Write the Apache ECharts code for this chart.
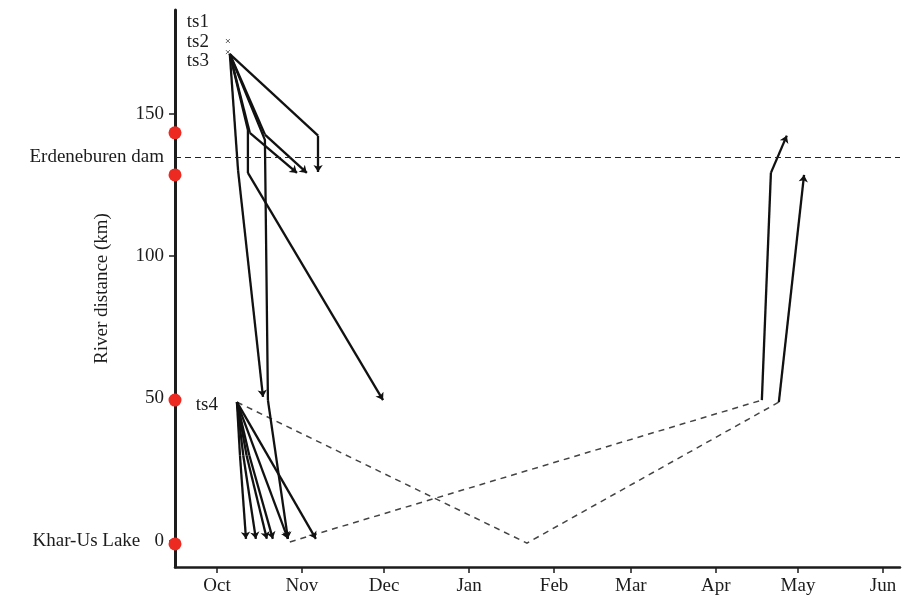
<!DOCTYPE html>
<html>
<head>
<meta charset="utf-8">
<script src="https://cdn.jsdelivr.net/npm/echarts@6/dist/echarts.min.js"></script>
<style>
  html, body { margin: 0; padding: 0; background: #fff; }
  #chart { width: 902px; height: 596px; }
</style>
</head>
<body>
<div id="chart"></div>
<script>
// Time is counted in days from 1 October; distance is river km above Khar-Us Lake.
const monthStarts = [0, 31, 61, 92, 123, 151, 182, 212, 243];
const monthLabels = ['Oct', 'Nov', 'Dec', 'Jan', 'Feb', 'Mar', 'Apr', 'May', 'Jun'];
const distanceTicks = [0, 50, 100, 150];
const damKm = 134.9;
const stationKm = [143.4, 128.6, 49.4, -1.2];

// Tagging sites and release marks
const tagNames = ['ts1', 'ts2', 'ts3', 'ts4'];
const tagPoints = [[4.0, 182.4], [4.0, 175.5], [4.0, 168.6], [7.3, 47.8]];
const releaseMarks = [[4.0, 175.7], [4.0, 171.8]];

// Autumn movements of fish tagged above the dam (ts1-ts3)
const upperTracks = [
  [[4.7, 171.1], [36.9, 142.4], [36.9, 129.6]],
  [[4.7, 171.1], [12.0, 143.4], [29.2, 129.3]],
  [[4.7, 171.1], [17.5, 142.8], [32.8, 129.3]],
  [[4.7, 171.1], [7.7, 130.3], [16.8, 50.5]],
  [[4.7, 171.1], [11.3, 144.4], [11.3, 129.3], [60.6, 49.4]],
  [[4.7, 171.1], [17.5, 140.9], [18.6, 49.4], [25.9, 0.6]]
];

// Autumn movements of fish tagged at ts4
const lowerTracks = [
  [[7.3, 48.7], [8.4, 30.0], [10.6, 0.6]],
  [[7.3, 48.7], [9.6, 30.0], [14.2, 0.6]],
  [[7.3, 48.7], [10.8, 30.0], [18.2, 0.6]],
  [[7.3, 48.7], [11.8, 30.0], [20.4, 0.6]],
  [[7.3, 48.7], [25.9, 0.6]],
  [[7.3, 48.7], [36.1, 0.6]]
];

// Over-winter periods without detections
const winterGaps = [
  [[7.3, 48.7], [113.1, -0.9], [205.0, 48.7]],
  [[26.6, -0.5], [198.8, 49.4]]
];

// Spring upstream runs
const springTracks = [
  [[205.0, 48.7], [214.2, 128.6]],
  [[198.8, 49.4], [202.1, 129.3], [207.9, 142.4]]
];

const xMin = -15.3, xMax = 249.2, yMin = -9.3, yMax = 186.6;
const serif = '"Liberation Serif", "DejaVu Serif", serif';
const ink = '#1c1c1c';

const solidTracks = upperTracks.concat(lowerTracks, springTracks);
// Body of each track (all but the last leg) and its final leg, which carries the arrowhead.
const trackBodies = solidTracks.filter(p => p.length > 2).map(p => ({ coords: p.slice(0, -1) }));
const trackHeads = solidTracks.map(p => ({ coords: p.slice(-2) }));
const toLines = (paths) => paths.map(c => ({ coords: c }));

const chart = echarts.init(document.getElementById('chart'), null, { renderer: 'canvas' });

chart.setOption({
  animation: false,
  backgroundColor: '#fff',
  grid: { left: 175, top: 10, right: 2, bottom: 29, containLabel: false, outerBoundsMode: 'none' },
  xAxis: {
    type: 'value', min: xMin, max: xMax,
    axisLine: { show: true, onZero: false, lineStyle: { color: ink, width: 2.5 } },
    axisTick: { show: true, customValues: monthStarts, length: 6, lineStyle: { color: ink, width: 1.5 } },
    axisLabel: {
      customValues: monthStarts, margin: 10,
      formatter: v => monthLabels[monthStarts.indexOf(v)] || '',
      color: ink, fontFamily: serif, fontSize: 19
    },
    splitLine: { show: false }
  },
  yAxis: {
    type: 'value', min: yMin, max: yMax,
    name: 'River distance (km)', nameLocation: 'middle', nameGap: 63, nameMoveOverlap: false,
    nameTextStyle: { color: ink, fontFamily: serif, fontSize: 19 },
    axisLine: { show: true, onZero: false, lineStyle: { color: ink, width: 3 } },
    axisTick: { show: true, customValues: distanceTicks, length: 6, lineStyle: { color: ink, width: 1.5 } },
    axisLabel: {
      customValues: distanceTicks, margin: 11,
      formatter: v => v === 0 ? 'Khar-Us Lake   0' : String(v),
      color: ink, fontFamily: serif, fontSize: 19
    },
    splitLine: { show: false }
  },
  series: [
    {
      // dam position
      type: 'line', data: [], silent: true,
      markLine: {
        silent: true, symbol: ['none', 'none'],
        lineStyle: { color: '#222', width: 1.2, type: [6, 4] },
        label: {
          show: true, position: 'start', distance: 11,
          formatter: 'Erdeneburen dam', color: ink, fontFamily: serif, fontSize: 19
        },
        data: [{ yAxis: damKm }]
      }
    },
    {
      type: 'lines', coordinateSystem: 'cartesian2d', polyline: true, silent: true,
      lineStyle: { color: '#444', width: 1.5, type: [6, 5], opacity: 1 },
      data: toLines(winterGaps)
    },
    {
      type: 'lines', coordinateSystem: 'cartesian2d', polyline: true, silent: true,
      lineStyle: { color: '#111', width: 2.3, opacity: 1 },
      data: trackBodies
    },
    {
      type: 'lines', coordinateSystem: 'cartesian2d', silent: true,
      lineStyle: { color: '#111', width: 2.3, opacity: 1, curveness: 0 },
      symbol: ['none', 'arrow'], symbolSize: 7,
      data: trackHeads
    },
    {
      type: 'scatter', silent: true, clip: false,
      symbol: 'path://M0,0L10,10M10,0L0,10', symbolSize: 4,
      itemStyle: { color: 'none', borderColor: '#666', borderWidth: 1, opacity: 1 },
      data: releaseMarks
    },
    {
      type: 'scatter', silent: true, clip: false,
      symbol: 'circle', symbolSize: 0,
      itemStyle: { opacity: 1 },
      label: {
        show: true, position: 'left', distance: 19, opacity: 1,
        formatter: p => tagNames[p.dataIndex],
        color: ink, fontFamily: serif, fontSize: 19
      },
      data: tagPoints
    },
    {
      type: 'scatter', silent: true, clip: false, z: 5,
      symbol: 'circle', symbolSize: 13,
      itemStyle: { color: '#ec2a22', opacity: 1 },
      data: stationKm.map(v => [xMin, v])
    }
  ]
});
</script>
</body>
</html>
